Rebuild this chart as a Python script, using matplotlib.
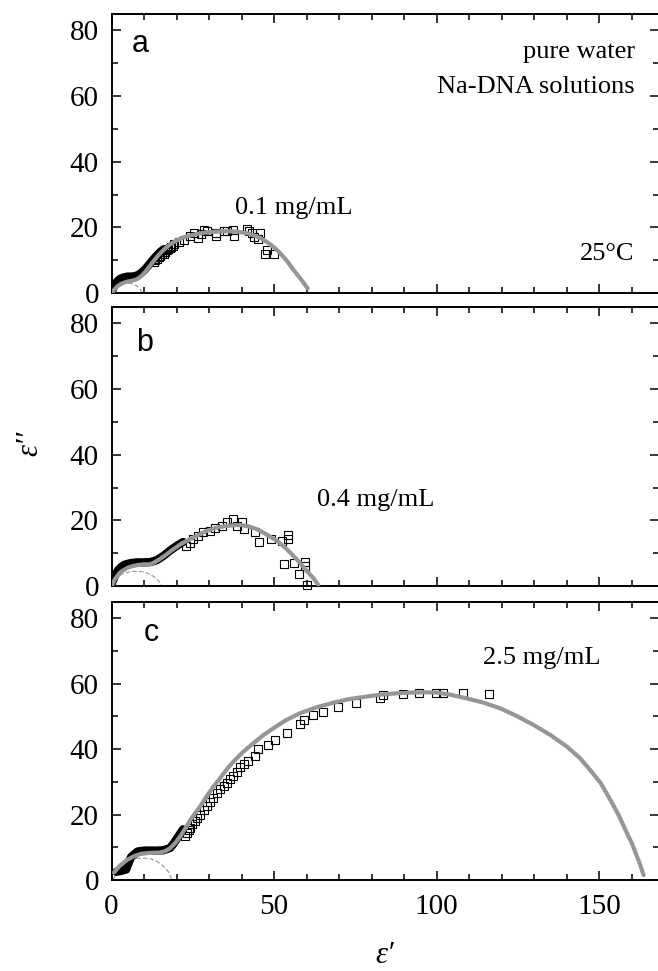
import matplotlib
matplotlib.use('Agg')
import matplotlib.pyplot as plt
from matplotlib.ticker import MultipleLocator

plt.rcParams['font.family'] = ['Liberation Serif', 'DejaVu Serif']

# ---- panel a : 0.1 mg/mL ----
fit_a_x = [0.3, 1, 2, 3, 4, 5, 6, 7, 8, 9, 10, 11, 12, 13, 14, 15, 16, 17, 18, 20, 22, 24, 26,
           28, 30, 32, 34, 36, 38, 40, 42, 44, 46, 48, 50, 52, 54, 56, 58, 59.5, 60.3]
fit_a_y = [0.2, 1.2, 2.2, 2.8, 3.2, 3.5, 3.7, 3.9, 4.3, 5.0, 6.0, 7.2, 8.5, 9.8, 11.0, 12.1, 13.1,
           14.0, 14.8, 16.0, 16.9, 17.5, 17.9, 18.3, 18.5, 18.7, 18.8, 18.8, 18.7, 18.5, 18.1,
           17.5, 16.6, 15.4, 13.9, 12.0, 9.7, 7.0, 4.5, 2.5, 1.4]
dense_a_x = [0.2, 1, 2, 3, 4, 5, 6, 7, 8, 9, 10, 11, 12, 13, 14, 15, 16]
dense_a_y = [0.5, 2.6, 3.8, 4.5, 4.8, 5.0, 5.0, 5.1, 5.4, 6.0, 6.9, 8.0, 9.2, 10.4, 11.5, 12.5, 13.3]
sq_a_x = [13, 13.5, 14, 14.6, 15, 15.5, 16.1, 16.5, 17, 17.5, 18, 18.2, 19, 19.2, 20.8, 22.3, 24.2,
          25.4, 26.5, 27.5, 28.5, 29.5, 32.1, 32.1, 34.6, 35.4, 37.5, 37.7, 41.8, 42.3, 43.3,
          43.9, 45.7, 44.9, 47.2, 47.8, 49.9]
sq_a_y = [9.5, 10.0, 10.5, 10.9, 11.2, 11.8, 11.9, 12.5, 13.0, 13.4, 13.8, 13.9, 14.4, 14.9, 15.4,
          16.1, 17.4, 18.4, 16.7, 17.9, 19.2, 19.0, 18.4, 17.4, 19.0, 18.8, 19.2, 17.4, 19.5,
          19.0, 18.4, 17.0, 18.4, 16.5, 11.9, 13.1, 11.9]
debye_a_x = [0.3, 1, 2, 3, 4, 5, 6, 7, 8, 8.8, 9.4]
debye_a_y = [0, 1.3, 2.2, 2.7, 2.9, 3.0, 2.9, 2.6, 2.0, 1.2, 0]

# ---- panel b : 0.4 mg/mL ----
fit_b_x = [0.1, 1, 2.6, 4, 5, 6.7, 8, 10, 11.8, 13, 14.9, 17, 19, 21.5, 24.2, 27, 29.3, 32, 35.4,
           37.5, 39.5, 42, 44.7, 47.5, 50.8, 53.5, 55.9, 58, 60, 62, 63.6]
fit_b_y = [0, 2.0, 4.1, 5.0, 5.6, 6.1, 6.4, 6.6, 6.6, 7.1, 8.2, 9.7, 11.2, 12.9, 14.3, 15.7, 16.8,
           17.7, 18.3, 18.5, 18.6, 18.2, 17.3, 15.8, 13.8, 11.6, 9.2, 7.0, 4.6, 2.5, 0.3]
dense_b_x = [0.2, 1, 2, 3, 4, 6, 8, 10, 12, 14, 16, 18, 20, 22]
dense_b_y = [1.0, 3.0, 4.8, 5.8, 6.5, 7.0, 7.2, 7.2, 7.3, 7.9, 9.2, 10.8, 12.2, 13.4]
sq_b_x = [23, 24, 25.2, 26.7, 28.2, 30.3, 31.8, 33.9, 35.4, 37.5, 38.5, 40, 40.6, 44.2, 45.5, 49,
          52.4, 54.2, 54.2, 52.9, 56, 59.4, 59.4, 57.8, 60]
sq_b_y = [12.3, 13.1, 14.3, 15.3, 16.3, 16.8, 17.8, 18.3, 19.4, 20.4, 18.3, 19.4, 17.3, 16.3,
          13.5, 14.3, 13.8, 15.6, 14.2, 6.6, 7.1, 7.3, 6.1, 3.6, 0.3]
debye_b_x = [0.2, 1, 2, 3, 4, 6, 8, 10, 12, 13.5, 14.7, 15.5]
debye_b_y = [0, 1.8, 2.8, 3.5, 3.9, 4.4, 4.5, 4.3, 3.5, 2.5, 1.3, 0]

# ---- panel c : 2.5 mg/mL ----
fit_c_x = [0.8, 2.5, 4.7, 7, 9, 12, 14.9, 16.5, 18, 19.5, 21.1, 22.7, 24.2, 25.7, 27.2, 29.2,
           31.3, 33, 34.5, 36, 37.5, 40.5, 43.6, 46.7, 49.8, 53.5, 58, 63, 68.2, 73, 78.5, 83,
           87.8, 92, 96, 100, 104, 109.3, 114.5, 119.5, 124.5, 129.8, 135, 140, 144, 147.2,
           150.5, 153.4, 156, 158.5, 160.2, 161.6, 162.7, 163.6]
fit_c_y = [2.3, 4.3, 6.1, 7.3, 8.0, 8.3, 8.4, 8.8, 9.7, 11.2, 13.3, 15.8, 18.3, 20.4, 22.4, 25.5,
           28.5, 30.6, 32.6, 34.5, 36.2, 39.2, 41.8, 44.3, 46.4, 48.8, 51.0, 52.8, 54.2, 55.3,
           56.1, 56.7, 57.1, 57.3, 57.4, 57.3, 56.7, 55.5, 54.2, 52.5, 50.2, 47.4, 44.3, 40.8,
           37.3, 33.6, 29.5, 24.5, 19.7, 14.3, 10.8, 7.1, 4.3, 1.5]
dense_c_x = [1.5, 3, 4.5, 5, 6, 8, 10, 12, 14, 16, 18, 19, 20, 21, 22]
dense_c_y = [2.5, 2.8, 3.2, 4.5, 7.0, 8.7, 9.0, 9.0, 9.0, 9.1, 9.8, 11.0, 12.5, 14.0, 15.5]
sq_c_x = [22.5, 23.2, 23.7, 24.2, 24.7, 25.7, 26.3, 27.3, 28.3, 29.3, 30.3, 31.3, 32.3, 33.4, 34.5,
          35.5, 36.5, 37.5, 38.5, 39.6, 40.8, 42, 44, 45.1, 48, 50.3, 53.9, 58, 59.2, 62, 65,
          69.7, 75.2, 82.5, 83.5, 89.6, 94.5, 99.9, 102, 108, 116]
sq_c_y = [13.5, 14.5, 15.3, 16.0, 17.0, 18.0, 19.0, 20.0, 21.3, 22.6, 24.0, 25.2, 26.5, 27.7, 28.7,
          29.7, 30.8, 31.8, 33.0, 34.4, 35.5, 36.5, 37.9, 40.0, 41.4, 42.9, 45.0, 47.8, 49.0,
          50.3, 51.4, 52.8, 54.0, 55.6, 56.5, 57.0, 57.3, 57.3, 57.3, 57.2, 57.0]
debye_c_x = [0.5, 2, 4, 6, 8, 10, 12, 14, 16, 17.5, 18.6]
debye_c_y = [0, 3.0, 5.0, 6.2, 6.6, 6.7, 6.5, 5.7, 4.2, 2.5, 0]

panels = [
    ('a', (fit_a_x, fit_a_y), (dense_a_x, dense_a_y), (sq_a_x, sq_a_y), (debye_a_x, debye_a_y)),
    ('b', (fit_b_x, fit_b_y), (dense_b_x, dense_b_y), (sq_b_x, sq_b_y), (debye_b_x, debye_b_y)),
    ('c', (fit_c_x, fit_c_y), (dense_c_x, dense_c_y), (sq_c_x, sq_c_y), (debye_c_x, debye_c_y)),
]

W, H = 658, 971
fig = plt.figure(figsize=(W / 100, H / 100), dpi=100)

# panel boxes in pixels: (top, bottom)
boxes = [(14, 293), (307, 586), (602, 880)]
left_px, right_px = 111.5, 659.5
gray = '#969696'

axes = []
for (name, fit, dense, sq, deb), (top, bot) in zip(panels, boxes):
    ax = fig.add_axes([left_px / W, 1 - bot / H, (right_px - left_px) / W, (bot - top) / H])
    axes.append(ax)
    ax.plot(deb[0], deb[1], color=gray, lw=0.8, ls=(0, (4, 2)), zorder=2)
    ax.plot(dense[0], dense[1], color='black', lw=6, solid_capstyle='round', zorder=3)
    ax.plot(sq[0], sq[1], ls='none', marker='s', ms=5.2, mfc='none', mec='black', mew=0.8,
            zorder=4, clip_on=False)
    ax.plot(fit[0], fit[1], color=gray, lw=3, solid_capstyle='round',
            solid_joinstyle='round', zorder=5)

    ax.set_xlim(0, 168.5)
    ax.set_ylim(0, 85)
    ax.xaxis.set_major_locator(MultipleLocator(50))
    ax.xaxis.set_minor_locator(MultipleLocator(10))
    ax.yaxis.set_major_locator(MultipleLocator(20))
    ax.yaxis.set_minor_locator(MultipleLocator(10))
    ax.tick_params(which='both', direction='in', top=True, right=True, width=1.1, labelsize=21)
    ax.tick_params(which='major', length=6.5)
    ax.tick_params(which='minor', length=4)
    ax.tick_params(axis='y', pad=9)
    ax.tick_params(axis='x', pad=10)
    for s in ax.spines.values():
        s.set_linewidth(1.4)
    ax.spines['right'].set_visible(False)
    if name != 'c':
        ax.tick_params(labelbottom=False)

sans = ['Liberation Sans', 'DejaVu Sans']
axes[0].text(6.3, 75.9, 'a', family=sans, fontsize=22, va='center')
axes[1].text(7.5, 74.0, 'b', family=sans, fontsize=22, va='center')
axes[2].text(10.0, 75.5, 'c', family=sans, fontsize=22, va='center')

axes[0].text(161, 73.4, 'pure water', fontsize=19, ha='right', va='center')
axes[0].text(161, 62.7, 'Na-DNA solutions', fontsize=19, ha='right', va='center')
axes[0].text(160.8, 12.0, '25°C', fontsize=19, ha='right', va='center')
axes[0].text(38, 25.8, '0.1 mg/mL', fontsize=19, ha='left', va='center')
axes[1].text(63.2, 26.2, '0.4 mg/mL', fontsize=19, ha='left', va='center')
axes[2].text(114.3, 67.9, '2.5 mg/mL', fontsize=19, ha='left', va='center')

fig.text(30 / W, 1 - 443 / H, 'ε\u2032\u2032', fontsize=22, style='italic', rotation=90,
         ha='center', va='center')
fig.text(385 / W, 1 - 955 / H, 'ε\u2032', fontsize=22, style='italic', ha='center', va='center')

fig.savefig('out.png', dpi=100)
